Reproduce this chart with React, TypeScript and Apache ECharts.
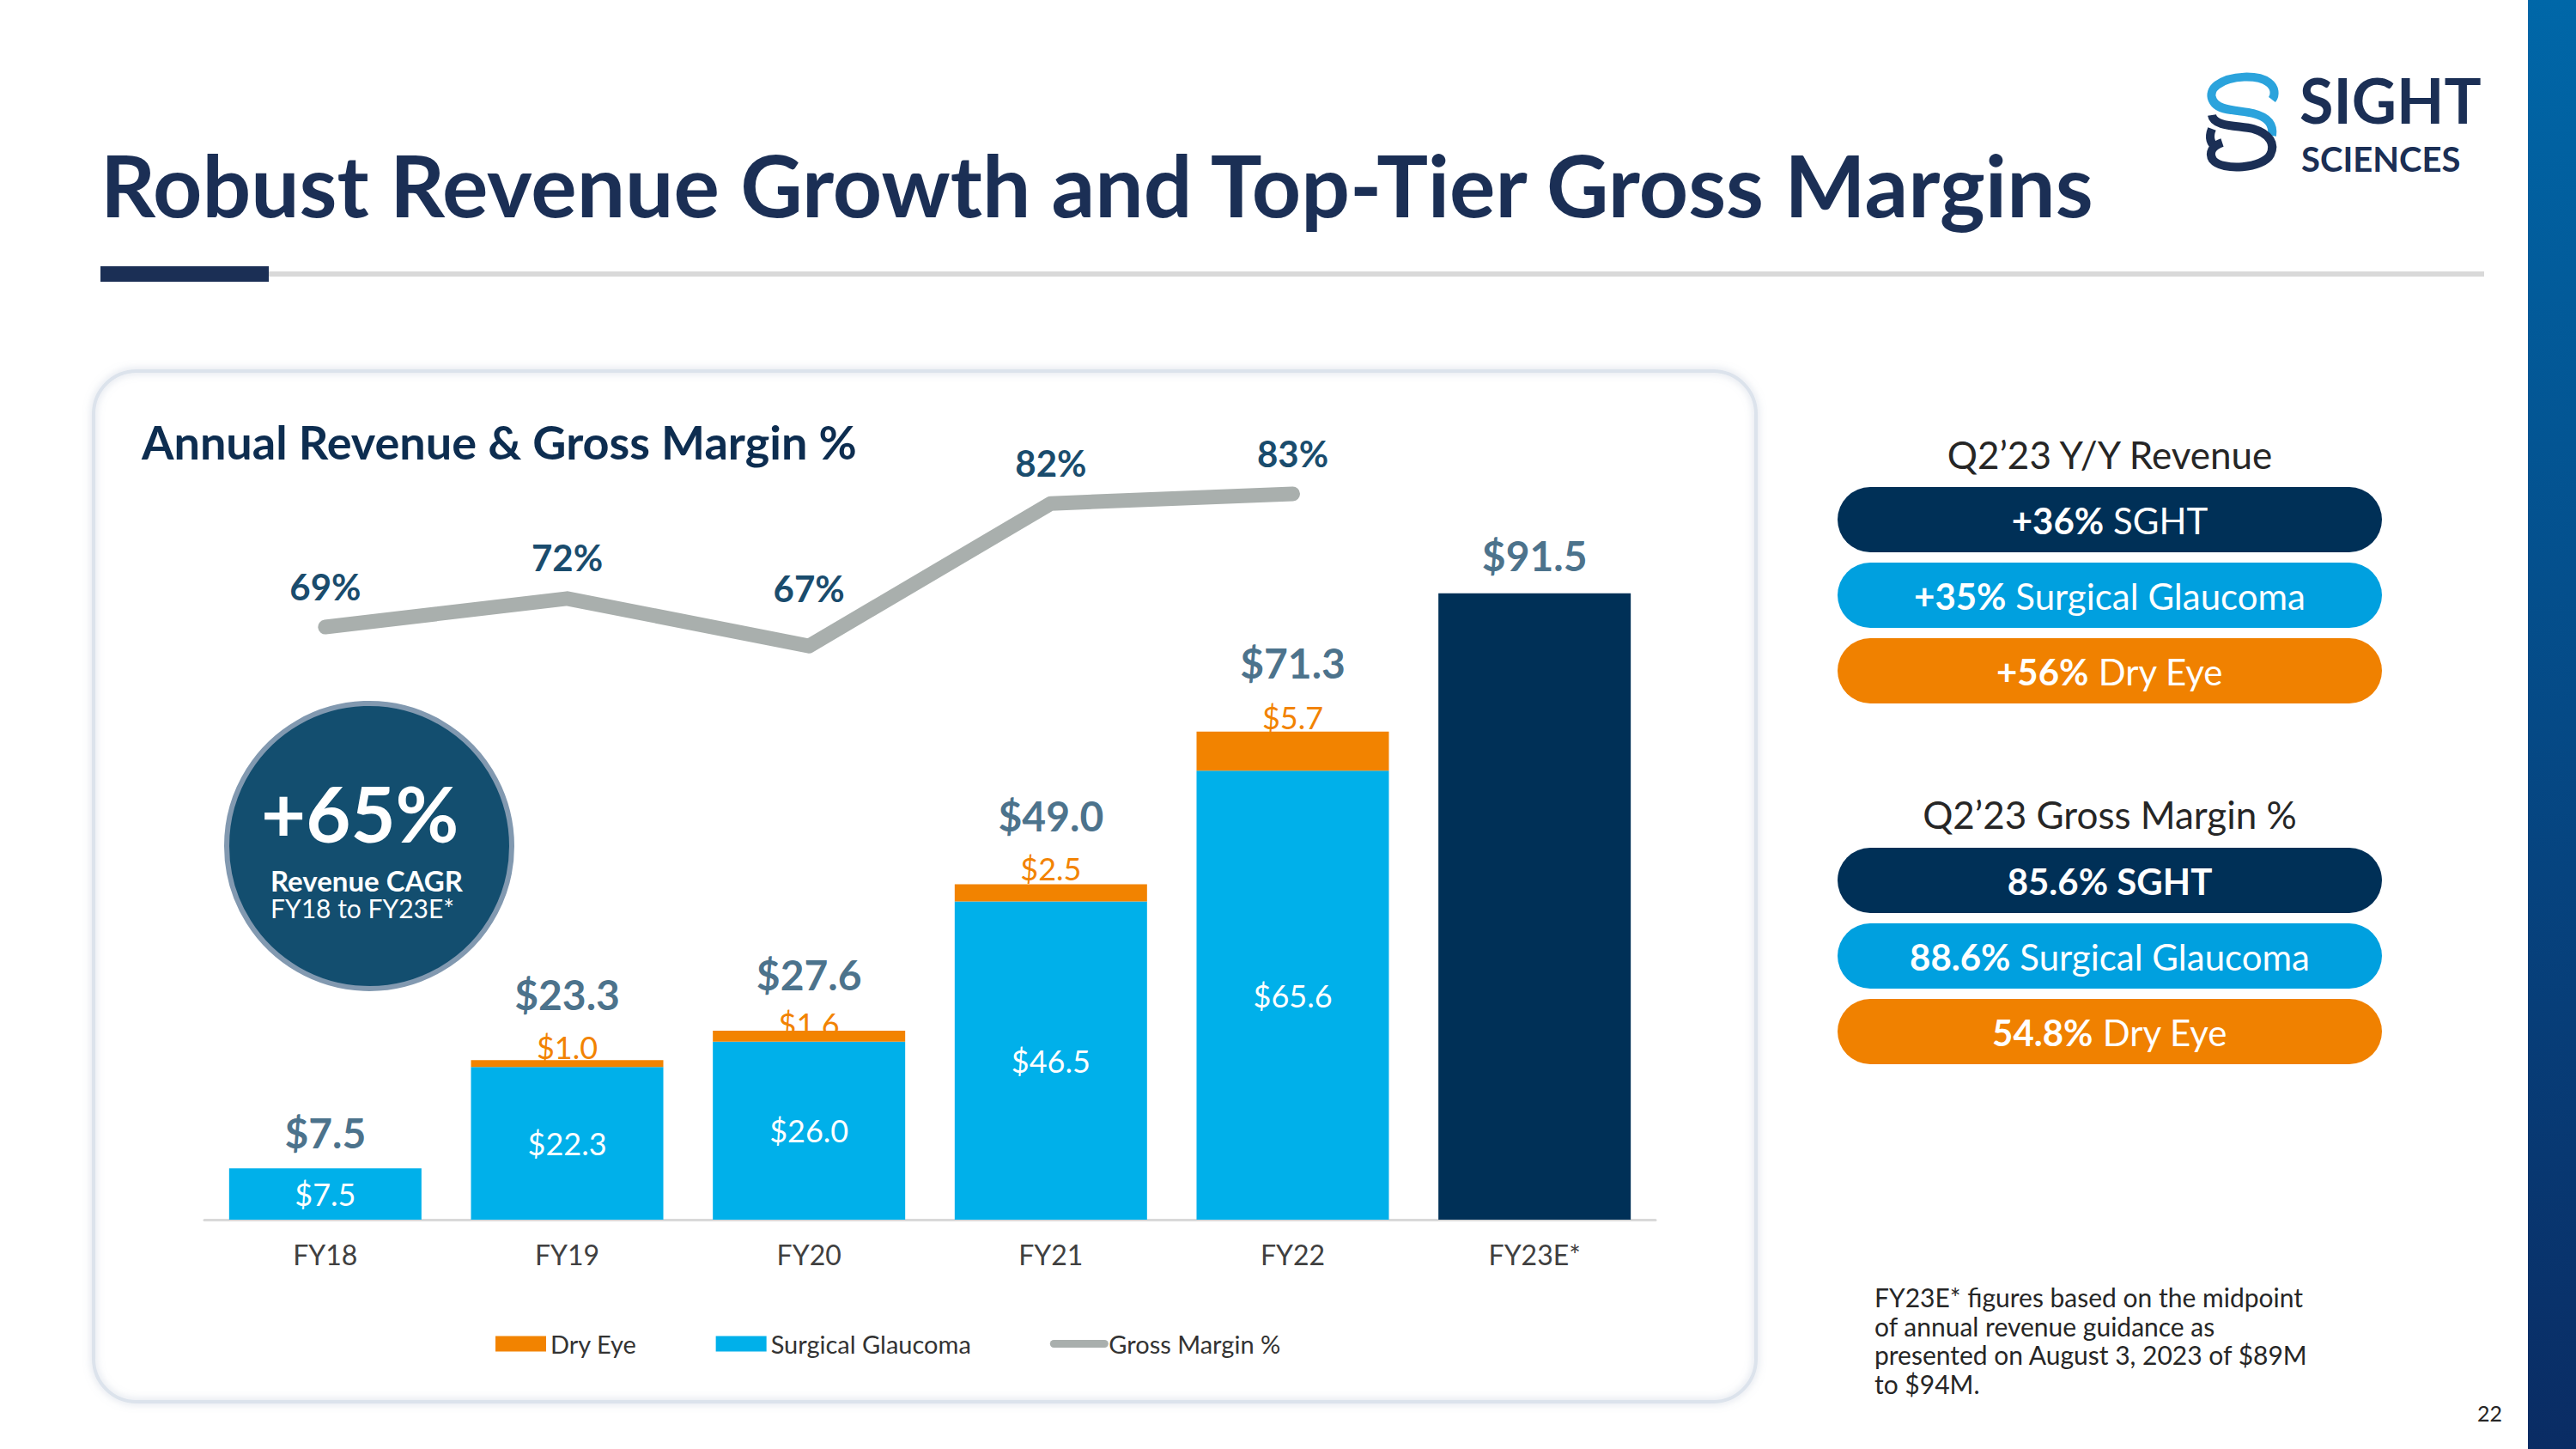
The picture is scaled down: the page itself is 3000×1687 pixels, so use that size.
import React, { useEffect, useRef } from "react";
import * as echarts from "echarts";

const categories = ["FY18", "FY19", "FY20", "FY21", "FY22", "FY23E*"];
const surgicalGlaucoma = [7.5, 22.3, 26.0, 46.5, 65.6, null];
const dryEye = [null, 1.0, 1.6, 2.5, 5.7, null];
const fy23Estimate = [null, null, null, null, null, 91.5];
const totals = [7.5, 23.3, 27.6, 49.0, 71.3, 91.5];
const grossMargin = [69, 72, 67, 82, 83, null];

const yoyRevenue = [
  { pct: "+36%", name: " SGHT", bold: false },
  { pct: "+35%", name: " Surgical Glaucoma", bold: false },
  { pct: "+56%", name: " Dry Eye", bold: false },
];
const q2Margin = [
  { pct: "85.6%", name: " SGHT", bold: true },
  { pct: "88.6%", name: " Surgical Glaucoma", bold: false },
  { pct: "54.8%", name: " Dry Eye", bold: false },
];
const footnoteLines = [
  "FY23E* figures based on the midpoint",
  "of annual revenue guidance as",
  "presented on August 3, 2023 of $89M",
  "to $94M.",
];

const FONT = 'Lato, "Noto Sans", sans-serif';
const NAVY = "#1B2F55";
const LABEL_NAVY = "#1A4C6D";
const BLUE = "#00B0EA";
const ORANGE = "#F28300";
const DARK_BAR = "#003057";
const GREY_LINE = "#A9AFAD";

const BLUE_LOGO = "M 30 44 C 6 42 2 24 14 15 C 30 3 62 3 74 12 C 82 18 82 27 78 32 M 8 30 C 12 46 40 44 56 48 C 72 52 80 60 78 74";
const NAVY_LOGO = "M 8 50 C 10 64 40 62 56 66 C 76 72 82 84 76 96 C 68 112 20 116 9 102 C 4 94 8 86 20 82 M 8 66 C 4 76 6 84 14 88";

let registered = false;
function registerLogo() {
  if (registered) return;
  registered = true;
  echarts.graphic.registerShape("logoBlue", echarts.graphic.extendPath(BLUE_LOGO, {}));
  echarts.graphic.registerShape("logoNavy", echarts.graphic.extendPath(NAVY_LOGO, {}));
}

export default function App() {
  const ref = useRef<HTMLDivElement>(null);

  useEffect(() => {
    if (!ref.current) return;
    registerLogo();
    const chart = echarts.init(ref.current, null, { renderer: "svg" });

    const totalOffsets = [-42, -77, -66, -80, -80, -44];
    const dryOffsets = [0, 3, 10, 0, 1, 0];
    const marginDistances = [26, 26, 46, 26, 26, 26];

    const pillRows = (rows: any[], top: number, headY: number, heading: string) => {
      const colors = [DARK_BAR, "#00A0DF", "#F08100"];
      const els: any[] = [
        {
          type: "text",
          x: 2457,
          y: headY,
          style: { text: heading, fontSize: 44, fontFamily: FONT, fill: "#262626", align: "center", verticalAlign: "middle" },
        },
      ];
      rows.forEach((r, i) => {
        const y = top + i * 88;
        els.push({
          type: "rect",
          shape: { x: 2140, y, width: 634, height: 76, r: 38 },
          style: { fill: colors[i] },
        });
        els.push({
          type: "text",
          x: 2457,
          y: y + 39,
          style: {
            text: `{b|${r.pct}}{${r.bold ? "b" : "r"}|${r.name}}`,
            align: "center",
            verticalAlign: "middle",
            rich: {
              b: { fontSize: 42, fontWeight: "bold", fill: "#fff", fontFamily: FONT },
              r: { fontSize: 42, fill: "#fff", fontFamily: FONT },
            },
          },
        });
      });
      return els;
    };

    const graphics: any[] = [
      // right gradient strip
      {
        type: "rect",
        shape: { x: 2944, y: 0, width: 56, height: 1687 },
        style: {
          fill: new echarts.graphic.LinearGradient(0, 0, 0, 1, [
            { offset: 0, color: "#0067A8" },
            { offset: 1, color: "#0A2C64" },
          ]),
        },
      },
      // title
      {
        type: "text",
        x: 117,
        y: 214,
        style: { text: "Robust Revenue Growth and Top-Tier Gross Margins", fontSize: 100, fontWeight: "bold", fontFamily: FONT, fill: NAVY, verticalAlign: "middle" },
      },
      { type: "rect", shape: { x: 313, y: 316, width: 2580, height: 6 }, style: { fill: "#D9D9D9" } },
      { type: "rect", shape: { x: 117, y: 310, width: 196, height: 18 }, style: { fill: NAVY } },
      // logo
      { type: "logoBlue", x: 2568, y: 84, style: { fill: "none", stroke: "#2BA3DC", lineWidth: 10 } },
      { type: "logoNavy", x: 2568, y: 84, style: { fill: "none", stroke: NAVY, lineWidth: 10 } },
      {
        type: "text",
        x: 2678,
        y: 116,
        style: { text: "SIGHT", fontSize: 72, fontWeight: "bold", fontFamily: FONT, fill: NAVY, verticalAlign: "middle" },
      },
      {
        type: "text",
        x: 2680,
        y: 185,
        style: { text: "SCIENCES", fontSize: 40, fontWeight: "bold", fontFamily: FONT, fill: NAVY, verticalAlign: "middle" },
      },
      // card
      {
        type: "rect",
        shape: { x: 109, y: 432, width: 1936, height: 1200, r: 50 },
        style: { fill: "none", stroke: "#DCE3EC", lineWidth: 4, shadowBlur: 10, shadowColor: "rgba(150,165,190,0.5)" },
      },
      {
        type: "text",
        x: 165,
        y: 514,
        style: { text: "Annual Revenue & Gross Margin %", fontSize: 54, fontWeight: "bold", fontFamily: FONT, fill: "#0D2D50", verticalAlign: "middle" },
      },
      // CAGR circle
      {
        type: "circle",
        shape: { cx: 430, cy: 985, r: 166 },
        style: { fill: "#134E6F", stroke: "#8299B0", lineWidth: 6 },
      },
      {
        type: "text",
        x: 304,
        y: 946,
        style: { text: "+65%", fontSize: 90, fontWeight: "bold", fontFamily: FONT, fill: "#fff", verticalAlign: "middle" },
      },
      {
        type: "text",
        x: 315,
        y: 1025,
        style: { text: "Revenue CAGR", fontSize: 33, fontWeight: "bold", fontFamily: FONT, fill: "#fff", verticalAlign: "middle" },
      },
      {
        type: "text",
        x: 315,
        y: 1057,
        style: { text: "FY18 to FY23E*", fontSize: 30, fontFamily: FONT, fill: "#fff", verticalAlign: "middle" },
      },
      ...pillRows(yoyRevenue, 567, 529, "Q2\u201923 Y/Y Revenue"),
      ...pillRows(q2Margin, 987, 948, "Q2\u201923 Gross Margin %"),
      ...footnoteLines.map((t, i) => ({
        type: "text",
        x: 2183,
        y: 1510 + i * 33.5,
        style: { text: t, fontSize: 30, fontFamily: FONT, fill: "#262626", verticalAlign: "middle" },
      })),
      {
        type: "text",
        x: 2914,
        y: 1645,
        style: { text: "22", fontSize: 25, fontFamily: FONT, fill: "#262626", align: "right", verticalAlign: "middle" },
      },
    ];

    const fmt = (p: any) => {
      const v = typeof p.value === "number" ? p.value : p.data && p.data.value;
      return "$" + Number(v).toFixed(1);
    };

    const option: any = {
      animation: false,
      backgroundColor: "#ffffff",
      textStyle: { fontFamily: FONT },
      grid: { left: 238, top: 623, width: 1690, height: 797, containLabel: false },
      legend: {
        left: 572,
        top: 1545,
        itemWidth: 59,
        itemHeight: 18,
        itemGap: 92,
        textStyle: { fontSize: 29, color: "#333333", fontFamily: FONT },
        data: [
          { name: "Dry Eye", icon: "rect" },
          { name: "Surgical Glaucoma", icon: "rect" },
          { name: "Gross Margin %", itemStyle: { opacity: 0 }, lineStyle: { width: 9, cap: "round" } },
        ],
      },
      xAxis: {
        type: "category",
        data: categories,
        axisLine: { show: true, lineStyle: { color: "#D9D9D9", width: 3 } },
        axisTick: { show: false },
        axisLabel: { fontSize: 32, color: "#404040", margin: 24, fontFamily: FONT },
      },
      yAxis: [
        { type: "value", min: 0, max: 100, show: false },
        { type: "value", min: 6.67, max: 78.67, show: false },
      ],
      series: [
        {
          name: "Surgical Glaucoma",
          type: "bar",
          stack: "rev",
          barWidth: 224,
          data: surgicalGlaucoma,
          itemStyle: { color: BLUE },
          label: { show: true, position: "inside", color: "#fff", fontSize: 36, fontFamily: FONT, formatter: fmt },
        },
        {
          name: "Dry Eye",
          type: "bar",
          stack: "rev",
          barWidth: 224,
          data: dryEye.map((v, i) => (v == null ? null : { value: v, label: { offset: [0, dryOffsets[i]] } })),
          itemStyle: { color: ORANGE },
          label: { show: true, position: "top", distance: 0, color: ORANGE, fontSize: 36, fontFamily: FONT, formatter: fmt },
        },
        {
          name: "FY23E",
          type: "bar",
          stack: "rev",
          barWidth: 224,
          data: fy23Estimate,
          itemStyle: { color: DARK_BAR },
        },
        {
          name: "Gross Margin %",
          type: "line",
          yAxisIndex: 1,
          clip: false,
          data: grossMargin.map((v, i) => (v == null ? null : { value: v, label: { distance: marginDistances[i] } })),
          symbol: "circle",
          symbolSize: 1,
          itemStyle: { color: GREY_LINE },
          lineStyle: { color: GREY_LINE, width: 17, cap: "round", join: "round" },
          z: 3,
          label: {
            show: true,
            position: "top",
            color: LABEL_NAVY,
            fontSize: 42,
            fontWeight: "bold",
            fontFamily: FONT,
            formatter: "{c}%",
          },
        },
        {
          name: "Total",
          type: "scatter",
          clip: false,
          data: totals.map((v, i) => ({ value: v, label: { offset: [0, totalOffsets[i]] } })),
          symbolSize: 1,
          itemStyle: { color: "rgba(0,0,0,0)" },
          label: {
            show: true,
            position: "inside",
            color: LABEL_NAVY,
            fontSize: 48,
            fontWeight: "bold",
            fontFamily: FONT,
            formatter: fmt,
          },
        },
      ],
      graphic: graphics,
    };

    chart.setOption(option);
    return () => chart.dispose();
  }, []);

  return (
    <div
      ref={ref}
      style={{ position: "fixed", left: 0, top: 0, width: 3000, height: 1687, background: "#fff" }}
    />
  );
}
